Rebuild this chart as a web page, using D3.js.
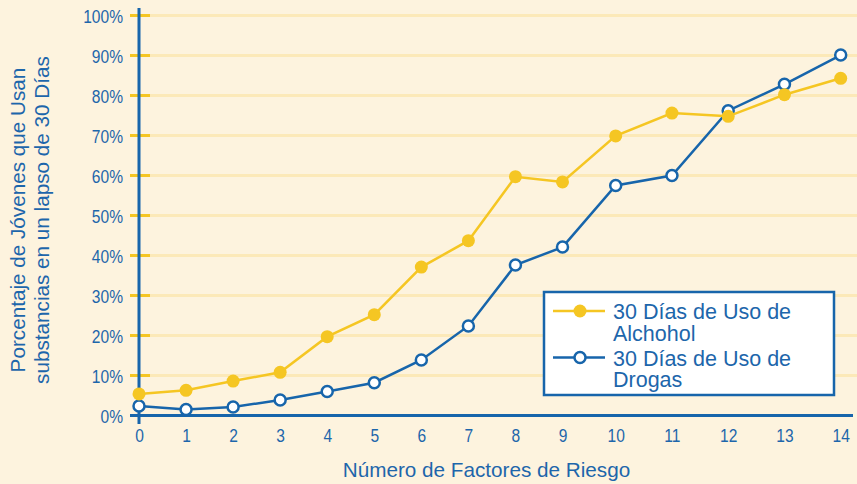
<!DOCTYPE html>
<html>
<head>
<meta charset="utf-8">
<script src="https://cdn.jsdelivr.net/npm/d3@7"></script>
<style>
  body { margin: 0; background: #fdf3de; }
  svg { display: block; }
  .tick-label { font-family: "Liberation Sans", Arial, sans-serif; font-size: 19px; fill: #1d66ab; }
  .title { font-family: "Liberation Sans", Arial, sans-serif; font-size: 20.7px; fill: #1d66ab; }
  .legend-text { font-family: "Liberation Sans", Arial, sans-serif; font-size: 21.5px; fill: #1d66ab; }
</style>
</head>
<body>
<div id="chart"></div>
<script>
// data
var factores = [0, 1, 2, 3, 4, 5, 6, 7, 8, 9, 10, 11, 12, 13, 14];
var alcohol = [5.4, 6.3, 8.6, 10.8, 19.7, 25.2, 37.1, 43.7, 59.7, 58.4, 69.9, 75.6, 74.8, 80.2, 84.3];
var drogas = [2.4, 1.5, 2.1, 3.9, 6.0, 8.2, 13.9, 22.4, 37.6, 42.1, 57.5, 60.0, 76.2, 82.8, 90.1];
var yTicks = [0, 10, 20, 30, 40, 50, 60, 70, 80, 90, 100];
var seriesNames = ["30 Días de Uso de|Alchohol", "30 Días de Uso de|Drogas"];

var width = 857, height = 484;
var yellow = "#f5c623", blue = "#1765ab", grid = "#fce9b8";

var svg = d3.select("#chart").append("svg")
  .attr("width", width)
  .attr("height", height);

svg.append("rect").attr("width", width).attr("height", height).attr("fill", "#fdf3de");

// the original spacing is wider after 9, so a piecewise scale
var xScale = d3.scaleLinear()
  .domain([0, 9, 10, 14])
  .range([139, 562.5, 615.7, 840.7]);

var yScale = d3.scaleLinear()
  .domain([0, 100])
  .range([415.5, 15.5]);

// gridlines
svg.append("g").selectAll("line")
  .data(yTicks.filter(function(d) { return d > 0; }))
  .enter().append("line")
  .attr("x1", 150).attr("x2", width)
  .attr("y1", function(d) { return yScale(d); })
  .attr("y2", function(d) { return yScale(d); })
  .attr("stroke", grid)
  .attr("stroke-width", 3);

// y axis (labels only, ticks drawn by hand in yellow)
var yAxis = svg.append("g")
  .attr("transform", "translate(123,0)")
  .call(d3.axisLeft(yScale).tickValues(yTicks).tickSize(0).tickFormat(function(d) { return d + "%"; }));
yAxis.select(".domain").remove();
yAxis.selectAll("text").attr("class", "tick-label").attr("x", 0).attr("dy", "0.36em")
  .attr("transform", "scale(0.82,1)")
  .attr("fill", null).attr("font-family", null).attr("font-size", null);

svg.append("g").selectAll("line")
  .data(yTicks.filter(function(d) { return d > 0; }))
  .enter().append("line")
  .attr("x1", 130).attr("x2", 150)
  .attr("y1", function(d) { return yScale(d); })
  .attr("y2", function(d) { return yScale(d); })
  .attr("stroke", yellow)
  .attr("stroke-width", 3);

// x axis
var xAxis = svg.append("g")
  .attr("transform", "translate(0," + yScale(0) + ")")
  .call(d3.axisBottom(xScale).tickValues(factores).tickSize(0).tickFormat(d3.format("d")));
xAxis.select(".domain").remove();
xAxis.selectAll("text").attr("class", "tick-label").attr("y", 13).attr("dy", "0.71em")
  .attr("transform", "scale(0.82,1)")
  .attr("fill", null).attr("font-family", null).attr("font-size", null);

// axis lines
svg.append("line").attr("x1", 130).attr("x2", 853)
  .attr("y1", yScale(0)).attr("y2", yScale(0))
  .attr("stroke", blue).attr("stroke-width", 3);
svg.append("line").attr("x1", xScale(0)).attr("x2", xScale(0))
  .attr("y1", 8).attr("y2", 424)
  .attr("stroke", blue).attr("stroke-width", 3);

// titles
svg.append("text").attr("class", "title")
  .attr("x", 486.5).attr("y", 477)
  .attr("text-anchor", "middle")
  .text("Número de Factores de Riesgo");

var yTitle = svg.append("text").attr("class", "title")
  .attr("transform", "translate(0,220) rotate(-90)")
  .attr("text-anchor", "middle");
yTitle.append("tspan").attr("x", 0).attr("y", 25).text("Porcentaje de Jóvenes que Usan");
yTitle.append("tspan").attr("x", 0).attr("y", 49).text("substancias en un lapso de 30 Días");

// lines
var line = d3.line()
  .x(function(d, i) { return xScale(factores[i]); })
  .y(function(d) { return yScale(d); });

svg.append("path").datum(drogas)
  .attr("d", line).attr("fill", "none")
  .attr("stroke", blue).attr("stroke-width", 2.5);
svg.append("g").selectAll("circle")
  .data(drogas).enter().append("circle")
  .attr("cx", function(d, i) { return xScale(factores[i]); })
  .attr("cy", function(d) { return yScale(d); })
  .attr("r", 5.5)
  .attr("fill", "#fff").attr("stroke", blue).attr("stroke-width", 2.5);

svg.append("path").datum(alcohol)
  .attr("d", line).attr("fill", "none")
  .attr("stroke", yellow).attr("stroke-width", 2.5);
svg.append("g").selectAll("circle")
  .data(alcohol).enter().append("circle")
  .attr("cx", function(d, i) { return xScale(factores[i]); })
  .attr("cy", function(d) { return yScale(d); })
  .attr("r", 6.5)
  .attr("fill", yellow);

// legend
var legend = svg.append("g").attr("transform", "translate(544,292)");
legend.append("rect").attr("width", 290).attr("height", 103)
  .attr("fill", "#fff").attr("stroke", blue).attr("stroke-width", 2.5);

var colors = [yellow, blue];
seriesNames.forEach(function(name, i) {
  var g = legend.append("g").attr("transform", "translate(0," + (19 + i * 46.5) + ")");
  g.append("line").attr("x1", 9).attr("x2", 61).attr("y1", 0).attr("y2", 0)
    .attr("stroke", colors[i]).attr("stroke-width", 2.5);
  if (i == 0) {
    g.append("circle").attr("cx", 36).attr("r", 6.5).attr("fill", yellow);
  } else {
    g.append("circle").attr("cx", 36).attr("r", 5.5).attr("fill", "#fff")
      .attr("stroke", blue).attr("stroke-width", 2.5);
  }
  var t = g.append("text").attr("class", "legend-text");
  name.split("|").forEach(function(part, j) {
    t.append("tspan").attr("x", 69).attr("y", 8 + j * 21.5).text(part);
  });
});
</script>
</body>
</html>
